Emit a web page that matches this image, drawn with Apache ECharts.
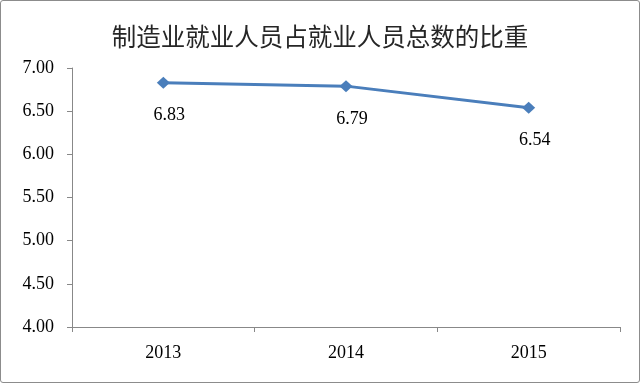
<!DOCTYPE html>
<html><head><meta charset="utf-8">
<script src="https://cdn.jsdelivr.net/npm/echarts@6/dist/echarts.min.js"></script>
<style>html,body{margin:0;padding:0;background:#fff;}
#c{position:absolute;left:0;top:0;width:638px;height:381px;border:1px solid #8c8c8c;border-radius:3px;}</style>
</head><body><div id="c"></div>
<script>
const title = '制造业就业人员占就业人员总数的比重';
const categories = ['2013','2014','2015'];
const values = [6.83, 6.79, 6.54];
const yTicks = {min:4, max:7, interval:0.5};

const chart = echarts.init(document.getElementById('c'));
chart.setOption({
  animation:false,
  title:{text:title,left:'center',top:18,textStyle:{fontFamily:'Noto Sans CJK SC',fontSize:24.5,fontWeight:'normal',color:'#262626'}},
  grid:{left:71,right:19,top:67,bottom:55},
  xAxis:{type:'category',data:categories,boundaryGap:true,
    axisLine:{lineStyle:{color:'#888'}},
    axisTick:{show:true,length:5,lineStyle:{color:'#888'}},
    axisLabel:{color:'#000',fontFamily:'Liberation Serif',fontSize:18,margin:17}},
  yAxis:{type:'value',min:yTicks.min,max:yTicks.max,interval:yTicks.interval,
    splitLine:{show:false},
    axisLine:{show:true,lineStyle:{color:'#888'}},
    axisTick:{show:true,length:5,lineStyle:{color:'#888'}},
    axisLabel:{color:'#000',fontFamily:'Liberation Serif',fontSize:18,margin:18,formatter:v=>v.toFixed(2)}},
  series:[{type:'line',data:values,symbol:'diamond',symbolSize:[13,12],
    lineStyle:{color:'#4a7ebb',width:3},itemStyle:{color:'#4a7ebb'},
    label:{show:true,position:'bottom',distance:18,offset:[6,0],color:'#000',fontFamily:'Liberation Serif',fontSize:18,formatter:p=>p.value.toFixed(2)}}]
});
</script></body></html>
